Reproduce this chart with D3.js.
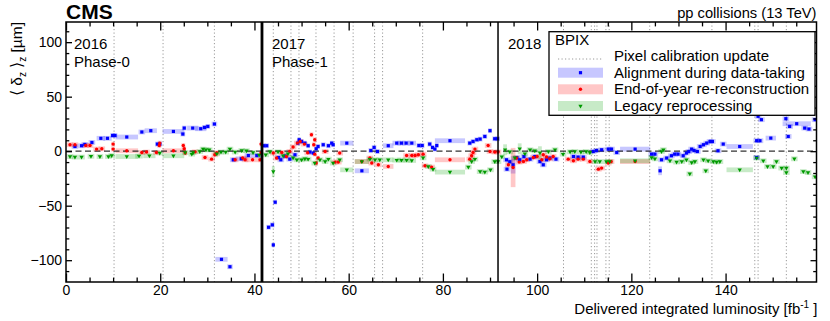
<!DOCTYPE html>
<html>
<head>
<meta charset="utf-8">
<script src="https://cdn.jsdelivr.net/npm/d3@7"></script>
<style>
  body { margin: 0; background: #fff; }
  svg { font-family: "Liberation Sans", Arial, Helvetica, sans-serif; }
</style>
</head>
<body>
<svg id="chart" width="830" height="321"></svg>
<script>
// each point: [delivered lumi (fb^-1), <delta z> (um), half IOV width (fb^-1, optional), error (um, optional)]
const alignData = [
  [1.9,4.3],[3.3,5.0],[4.0,6.2],[5.5,8.0],[7.4,11.8,0.9],[8.8,11.8,0.9],[9.9,14.4,0.5],[10.4,14.4,0.5],
  [12.9,13.0,2.4],[16.1,17.6],[18.0,18.8,1.3],[19.4,6.5,0.5],[19.9,6.5,0.5],[22.8,18.1,2.3],[24.8,15.7,0.5],
  [25.1,21.2,0.5],[26.9,21.2,1.2],[28.6,20.6,1.2],[29.4,21.8,0.5],[30.1,22.7,0.5],[31.5,24.9,0.6],
  [33.0,-99.2,1.3],[34.8,-106,0.6],[35.5,-7.9],[37.2,-7.0,1.2],[38.7,-4.0,0.8],[40.5,-4.0,1.0],
  [41.9,5,0.5],[42.6,5,0.5],[43.0,-69.8,0.5],[43.8,-67.6,0.5],[44.0,-86,0.3],[44.4,-46.8,0.4],[45.1,-5.8],
  [45.6,-7.9],[46.5,-4.5],[47.5,-7.3],[48.6,-3.3],[49.2,7.4,0.4],[49.5,10.5,0.4],[50.0,8.9,0.4],[50.7,7.4,0.4],
  [51.4,5.0,0.4],[51.8,-0.8,0.4],[52.5,-1.7,0.4],[53.1,2.2,0.4],[53.5,4.3,0.4],[54.6,5.9,0.5],[55.7,5.0,0.5],
  [56.4,7.4,0.4],[56.7,5.9,0.4],[59.6,7.4,1.4],[62.8,-18,1.5],[64.7,0.6,0.5],[65.4,3.4,0.5],[66.1,-0.3,0.5],
  [68.4,5.0,1.1],[70.2,7.4,0.9],[71.2,7.4,0.9],[72.2,7.4,0.9],[73.4,7.4,0.9],[74.9,5.2,0.5],[75.6,5.2,0.5],
  [77.2,6.5,0.5],[77.8,3.4,0.4],[78.3,1.9,0.4],[78.7,5.2,0.4],[81.5,9.6,3.2],[85.7,7.4,0.5],[86.4,8.9,0.5],
  [87.2,10.5,0.5],[87.9,11.1,0.5],[88.9,13.5,0.5],[90.0,18.8,0.4],[91.0,11.4,0.5],[91.6,11.4,0.5],
  [93.5,-7.9],[93.6,-16.5],[94.2,-9.7],[94.9,-12.5,0.5,8],[95.7,-6],[96.3,-7.9],[97.2,-5],[98.5,-7.3],
  [99.5,-5],[100.6,-9.5],[101.3,-12.5],[102.0,-7.9],[102.7,-6.3],[104.0,-7.3],[107.7,-4.9],[108.7,-5.4],
  [109.8,-5.4],[111.9,-0.3],[112.6,0.6],[113.7,1.3],[115.1,1.9],[115.8,1.9],[116.9,-1.2],[120.8,1.9,3.2],
  [124.3,-2.7],[125.0,-2.7],[126.1,-18,0.4,4],[126.4,-7.9],[127.5,-6.3],[128.5,-4.2],[129.2,-2.7],[129.9,-2.7],
  [131.0,-4.2],[131.7,-1.7],[132.2,-0.3],[132.8,1.9],[133.3,0.6],[134.0,-0.3],[134.6,4.3],[135.3,5.9],
  [136.0,7.4],[136.7,8.9],[137.2,8.9],[138.4,0.4],[139.5,6.5],[143.0,4.3,2.8],[146.6,9.6],[147.3,9.6],
  [146.6,-5.8],[146.9,32],[147.6,28.9],[149.6,12,1.1],[152.8,29.8],[153.3,13.5],[153.6,22.7],[155.1,25.2,3],
  [156.8,21.2],[157.7,20.3],[159.0,28.9]
];
const eoyData = [
  [0.85,5.9],[1.9,5.9],[4.2,5.2],[5.1,5.2],[6.5,1.9],[7.6,2.2],[10.0,6.5,0.4],[10.0,1.9,0.4],[12.9,0.4,2.4],
  [16.1,-1.2],[17.1,-0.8],[19.2,-1.2],[19.8,5.2,0.4],[19.9,7.4,0.4],[22.8,0.4,2.3],[24.9,5.2,0.4],[25.1,2.2,0.4],
  [25.3,-1.7,0.4],[27.4,-0.6],[29.5,-5.8],[30.9,-7.3],[31.6,-3.3],[32.0,-1.5],[35.9,-7.9],[37.5,-6.3],[38.0,-7.9],
  [39.6,-7.9,1.5],[41.2,-7.9,0.4],[41.4,-1.7,0.3],[41.4,6.5,0.3],
  [44.0,-1.7],[44.7,-6.3],[45.8,-1.2],[46.8,-4.9],[47.5,-0.3],[48.2,3.8],[49.1,7.4],[49.7,8.9],[50.6,6.5],
  [51.3,-1.5],[52.1,15.1,0.4],[52.8,10.5,0.4],[52.6,5.9,0.4],[52.8,-2.7,0.4],[53.1,-10.9,0.4],[53.5,-6.3,0.4],
  [55.0,-0.3],[57.1,-10],[57.8,-10],[58.1,-1.7],[62.8,-9.5,1.5],[64.5,-6.3],[64.9,-10.9],[66.3,-12.5],
  [68.4,-14,1.1],[72.3,-4],[73.4,-4],[74.1,-4],[74.8,-3.3],[75.8,-2.7],[76.2,-13.4],[77.6,-14.6],[81.5,-7.9,3.2],
  [85.7,-7.3],[86.1,-4.2],[86.4,-1.2],[86.8,1.9],[89.6,5.2],[90.0,-0.3],[91.0,-0.8],[91.7,-0.8],
  [93.9,-12.5],[94.9,-15,0.5,18],[95.6,-6.3],[96.2,-10],[97.1,-9.5],[97.8,-7.9],[99.2,-5.8],[100.0,-4.9],
  [101.0,-7.9],[101.3,-3.3],[102.0,-5.4],[102.7,-7],[103.4,-4.9],[106.6,-7.3],[107.7,-8.8],[108.7,-7.3],
  [109.8,-7.3],[111.2,-9.5],[113.0,-16.5],[113.7,-15.5],[115.1,-10.9],[115.7,-9.5],[120.8,-9.5,3.2]
];
const legacyData = [
  [0.85,-4.9],[1.9,-5.4],[3.3,-5.4],[5.3,-4.7],[7.2,-4.9],[9.0,-4.9],[9.7,-4],[12.9,-4.9,2.4],[15.5,-4.5,0.8],
  [17.7,-4.2,1.3],[19.9,-1.7],[22.8,-4.2,2.3],[25.3,-1.2],[26.7,-2.7],[27.0,-1.2],[28.4,-0.3],[29.1,1.9],
  [29.7,1.3],[30.4,1.3],[32.0,-2.4],[32.9,-0.8],[33.9,-0.8],[34.8,1.9],[35.9,-0.8],[37.3,0.6],[38.3,0.4],
  [39.7,-1.2],[41.0,-3.5],
  [42.4,-3.3],[43.3,-0.6],[44.0,-18.7,0.3,5],[45.0,-0.6],[46.1,-4.2],[47.1,-2.4],[48.2,-6.1],[49.0,-7.9],
  [50.0,-7.9],[50.7,-7],[51.4,-7.3],[52.8,-10.9],[53.9,-7.9],[55.0,-9.5],[55.7,-7.3],[56.7,-10.9],[58.1,-7.9],
  [59.6,-17.1,1.4],[62.8,-9.5,1.5],[64.5,-7.3],[65.6,-7.9],[66.6,-7.9],[68.4,-7.9,1.1],[70.2,-8.2,0.9],
  [71.2,-8.2,0.9],[72.3,-8.2,0.9],[73.4,-8.5,0.9],[75.8,-6.1],[76.9,-14],[77.9,-16.5],[81.5,-19.2,3.2],
  [85.4,-14.6],[86.1,-9.5],[86.8,-7.3],[87.9,-18.7],[88.9,-19.2],[90.1,-17.1],[91.0,-9.5],[91.7,-9.5],
  [92.5,-5.1],[93.2,1.3,0.4,5],[94.2,-0.6],[95.3,-6.1],[96.3,2.2,0.4,5],[97.4,-2.4],[98.5,1.3],[99.5,0.4],
  [100.6,-1.5,0.4,6],[102.4,-0.3],[103.8,1.3],[105.5,-2.7],[107.0,-0.6],[108.0,-0.3],[109.3,-0.8],[110.4,-0.3],
  [111.2,-1.2],[112.3,-9.5],[113.3,-9.5],[114.7,-9.5],[115.4,-9.5],[120.8,-8.8,3.2],[124.3,-5.8],[125.0,-7],
  [126.4,-0.3],[126.8,1.3],[128.2,-8.8],[129.6,-10],[130.7,-9.5],[131.7,-7.9],[132.4,-20.8],[132.8,-10.4],
  [133.5,-9.5],[135.3,-7.9],[135.8,-18],[136.3,-8.8],[137.4,-9.5],[138.1,-10],[138.8,-9.5],[143.0,-17.1,2.8],
  [146.6,-6.3],[148.0,-8.8],[148.9,-14],[150.1,-14],[150.8,-9.5],[151.9,-15.5],[152.9,-15.5],[152.9,-19.6],
  [154.6,-7],[156.5,-18.7],[157.5,-19.6],[159.0,-23.5]
];
const calibUpdates = [10.2, 20.6, 31.5, 44.0, 47.75, 49.45, 53.06, 56.9, 60.95, 65.5, 67.2, 75.7,
  105.6, 111.5, 112.2, 112.7, 114.6, 115.3, 123.9, 137.1, 146.2, 146.9, 152.9];
const yearStarts = [0, 41.6, 91.7];
const yearNames = ["2016", "2017", "2018"];
const phaseNames = ["Phase-0", "Phase-1", ""];
const xTicks = [0, 20, 40, 60, 80, 100, 120, 140];
const yTicks = [-100, -50, 0, 50, 100];
const legendLabels = ["Pixel calibration update", "Alignment during data-taking",
  "End-of-year re-reconstruction", "Legacy reprocessing"];

const svg = d3.select("#chart");
const x = d3.scaleLinear().domain([0, 159.3]).range([66, 816.5]);
const y = d3.scaleLinear().domain([-120, 118.5]).range([282, 22]);
const [x0, x1] = x.range(), [y1, y0] = y.range();

svg.append("defs").append("clipPath").attr("id", "plot")
  .append("rect").attr("x", x0).attr("y", y0).attr("width", x1 - x0).attr("height", y1 - y0);
const plot = svg.append("g").attr("clip-path", "url(#plot)");

// calibration updates
plot.selectAll(".calib").data(calibUpdates).enter().append("line")
  .attr("x1", d => x(d)).attr("x2", d => x(d)).attr("y1", y0).attr("y2", y1)
  .attr("stroke", "#999").attr("stroke-width", 1).attr("stroke-dasharray", "1.2,2.3");

const series = [
  { data: alignData, color: "#0000ff", band: "#0000ff", shape: "square" },
  { data: eoyData, color: "#ff0000", band: "#ff0000", shape: "circle" },
  { data: legacyData, color: "#009a00", band: "#00a000", shape: "triangle" }
];

// IOV bands
series.forEach(s => {
  plot.append("g").selectAll("rect").data(s.data).enter().append("rect")
    .attr("x", d => x(d[0] - (d[2] || 0.7)))
    .attr("width", d => x(d[0] + (d[2] || 0.7)) - x(d[0] - (d[2] || 0.7)))
    .attr("y", d => y(d[1] + (d[3] || 2.2)))
    .attr("height", d => y(d[1] - (d[3] || 2.2)) - y(d[1] + (d[3] || 2.2)))
    .attr("fill", s.band).attr("fill-opacity", 0.22);
});

// zero line
plot.append("line").attr("x1", x0).attr("x2", x1).attr("y1", y(0)).attr("y2", y(0))
  .attr("stroke", "#000").attr("stroke-width", 1.2).attr("stroke-dasharray", "6,3.5").attr("opacity", 0.8);

const triangle = d3.symbol().type(d3.symbolTriangle).size(8);
function marker(g, shape, color) {
  if (shape === "square") {
    g.append("rect").attr("x", -1.6).attr("y", -1.6).attr("width", 3.2).attr("height", 3.2).attr("fill", color);
  } else if (shape === "circle") {
    g.append("circle").attr("r", 1.7).attr("fill", color);
  } else {
    g.append("path").attr("d", triangle).attr("transform", "rotate(180)").attr("fill", color);
  }
}
series.forEach(s => {
  plot.append("g").selectAll("g").data(s.data).enter().append("g")
    .attr("transform", d => `translate(${x(d[0])},${y(d[1])})`)
    .each(function () { marker(d3.select(this), s.shape, s.color); });
});

// year boundaries
plot.selectAll(".year").data(yearStarts.slice(1)).enter().append("line")
  .attr("x1", d => x(d)).attr("x2", d => x(d)).attr("y1", y0).attr("y2", y1)
  .attr("stroke", "#000").attr("stroke-width", (d, i) => i === 0 ? 2.8 : 1.5);

// year labels
yearStarts.forEach((s, i) => {
  const tx = x(s) + (i === 0 ? 8 : 10);
  svg.append("text").attr("x", tx).attr("y", 48.5).attr("font-size", 15).text(yearNames[i]);
  if (phaseNames[i]) svg.append("text").attr("x", tx).attr("y", 67).attr("font-size", 15).text(phaseNames[i]);
});

// axes (ROOT style ticks inside, on all four sides)
const minorX = d3.range(0, 160, 5).filter(v => v % 20 !== 0);
const minorY = d3.range(-110, 120, 10).filter(v => v % 50 !== 0);
svg.append("g").attr("transform", `translate(0,${y1})`)
  .call(d3.axisBottom(x).tickValues(xTicks).tickSize(-8.5).tickPadding(3).tickFormat(d3.format("d")));
svg.append("g").attr("transform", `translate(0,${y1})`)
  .call(d3.axisBottom(x).tickValues(minorX).tickSize(-4.4).tickFormat(""));
svg.append("g").attr("transform", `translate(0,${y0})`)
  .call(d3.axisTop(x).tickValues(xTicks).tickSize(-8.5).tickFormat(""));
svg.append("g").attr("transform", `translate(0,${y0})`)
  .call(d3.axisTop(x).tickValues(minorX).tickSize(-4.4).tickFormat(""));
svg.append("g").attr("transform", `translate(${x0},0)`)
  .call(d3.axisLeft(y).tickValues(yTicks).tickSize(-6).tickPadding(4));
svg.append("g").attr("transform", `translate(${x0},0)`)
  .call(d3.axisLeft(y).tickValues(minorY).tickSize(-3.3).tickFormat(""));
svg.append("g").attr("transform", `translate(${x1},0)`)
  .call(d3.axisRight(y).tickValues(yTicks).tickSize(-6).tickFormat(""));
svg.append("g").attr("transform", `translate(${x1},0)`)
  .call(d3.axisRight(y).tickValues(minorY).tickSize(-3.3).tickFormat(""));
svg.selectAll(".domain").remove();
svg.selectAll(".tick line").attr("stroke", "#000").attr("stroke-width", 1.3);
svg.selectAll(".tick text").attr("font-size", 14).attr("fill", "#000")
  .attr("font-family", "'Liberation Sans', Arial, sans-serif");

// frame
svg.append("rect").attr("x", x0).attr("y", y0).attr("width", x1 - x0).attr("height", y1 - y0)
  .attr("fill", "none").attr("stroke", "#000").attr("stroke-width", 1.5);

// titles
svg.append("text").attr("x", 66).attr("y", 18.5).attr("font-size", 21).attr("font-weight", "bold").text("CMS");
svg.append("text").attr("x", x1).attr("y", 17.5).attr("text-anchor", "end").attr("font-size", 14.7)
  .text("pp collisions (13 TeV)");
const xt = svg.append("text").attr("x", x1 + 1).attr("y", 314).attr("text-anchor", "end").attr("font-size", 15);
xt.append("tspan").text("Delivered integrated luminosity  [fb");
xt.append("tspan").attr("dy", -6).attr("font-size", 10).text("-1");
xt.append("tspan").attr("dy", 6).text(" ]");
const yt = svg.append("text").attr("transform", "translate(22,22) rotate(-90)")
  .attr("text-anchor", "end").attr("font-size", 15.5);
yt.append("tspan").text("\u27E8 \u03B4");
yt.append("tspan").attr("dy", 4).attr("font-size", 10).text("z");
yt.append("tspan").attr("dy", -4).text(" \u27E9");
yt.append("tspan").attr("dy", 4).attr("font-size", 10).text("z");
yt.append("tspan").attr("dy", -4).text("  [\u00B5m]");

// legend
const lg = svg.append("g");
lg.append("rect").attr("x", 549).attr("y", 31.7).attr("width", 266).attr("height", 83.6)
  .attr("fill", "#fff").attr("stroke", "#000").attr("stroke-width", 1.3);
lg.append("text").attr("x", 555).attr("y", 45).attr("font-size", 15).text("BPIX");
const rowBase = [61, 77.7, 94.3, 111];
legendLabels.forEach((lab, i) => {
  const cy = rowBase[i] - 5;
  lg.append("text").attr("x", 614).attr("y", rowBase[i]).attr("font-size", 15).text(lab);
  if (i === 0) {
    lg.append("line").attr("x1", 558).attr("x2", 603).attr("y1", cy + 3).attr("y2", cy + 3)
      .attr("stroke", "#999").attr("stroke-dasharray", "1.2,2.3");
  } else {
    const s = series[i - 1];
    lg.append("rect").attr("x", 558).attr("y", cy - 5).attr("width", 45).attr("height", 10)
      .attr("fill", s.band).attr("fill-opacity", 0.22);
    const g = lg.append("g").attr("transform", `translate(580.5,${cy})`);
    marker(g, s.shape, s.color);
  }
});
</script>
</body>
</html>
